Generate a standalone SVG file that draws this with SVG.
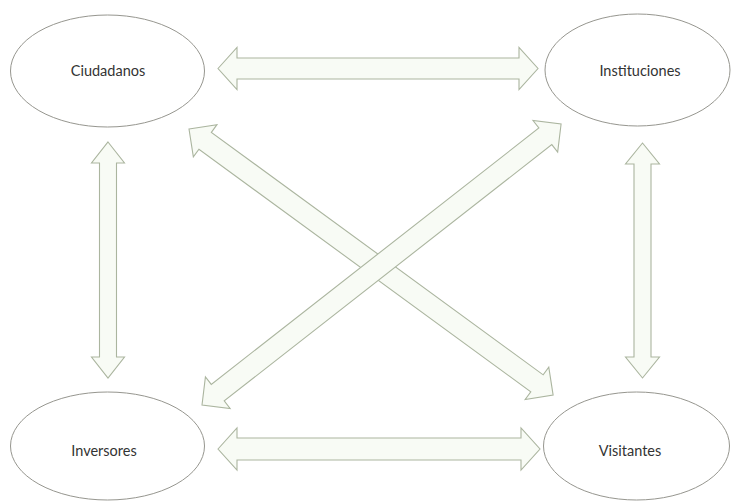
<svg xmlns="http://www.w3.org/2000/svg" width="732" height="502" viewBox="0 0 732 502">
  <style>
    .node ellipse { fill: #ffffff; stroke: #96968f; stroke-width: 1; }
    .node text { font-family: Lato, "Open Sans", "Liberation Sans", sans-serif; font-size: 14.5px; fill: #333333; text-anchor: middle; }
    .arrow { fill: #f8fbf5; stroke: #abb59f; stroke-width: 1.1; stroke-linejoin: miter; }
  </style>
  <rect width="732" height="502" fill="#ffffff"/>

  <!-- double-headed block arrows -->
  <g id="connectors">
    <!-- Ciudadanos <-> Instituciones -->
    <path class="arrow" transform="translate(218,68.5)" d="M0,0 L19,-21 L19,-10.5 L301,-10.5 L301,-21 L320,0 L301,21 L301,10.5 L19,10.5 L19,21 Z"/>
    <!-- Inversores <-> Visitantes -->
    <path class="arrow" transform="translate(218,449)" d="M0,0 L19,-21 L19,-11 L303,-11 L303,-21 L322,0 L303,21 L303,11 L19,11 L19,21 Z"/>
    <!-- Ciudadanos <-> Inversores -->
    <path class="arrow" transform="translate(108,142) rotate(90)" d="M0,0 L21,-16.5 L21,-8.5 L215,-8.5 L215,-16.5 L236,0 L215,16.5 L215,8.5 L21,8.5 L21,16.5 Z"/>
    <!-- Instituciones <-> Visitantes -->
    <path class="arrow" transform="translate(642.5,143) rotate(90)" d="M0,0 L21,-17 L21,-8.5 L214,-8.5 L214,-17 L235,0 L214,17 L214,8.5 L21,8.5 L21,17 Z"/>
    <!-- Ciudadanos <-> Visitantes -->
    <path class="arrow" transform="translate(189,129) rotate(36.16)" d="M0,0 L20,-20 L20,-10.5 L431,-10.5 L431,-20 L451,0 L431,20 L431,10.5 L20,10.5 L20,20 Z"/>
    <!-- Inversores <-> Instituciones -->
    <path class="arrow" transform="translate(202,405) rotate(-38.05)" d="M0,0 L20,-20 L20,-10.5 L436,-10.5 L436,-20 L456,0 L436,20 L436,10.5 L20,10.5 L20,20 Z"/>
  </g>

  <g id="ciudadanos" class="node">
    <ellipse cx="107.5" cy="71" rx="97" ry="56"/>
    <text x="108" y="76">Ciudadanos</text>
  </g>
  <g id="instituciones" class="node">
    <ellipse cx="637.5" cy="70" rx="92.5" ry="56"/>
    <text x="640" y="76">Instituciones</text>
  </g>
  <g id="inversores" class="node">
    <ellipse cx="107.5" cy="446" rx="97" ry="54"/>
    <text x="104" y="456">Inversores</text>
  </g>
  <g id="visitantes" class="node">
    <ellipse cx="636.5" cy="446" rx="93" ry="54"/>
    <text x="630" y="456">Visitantes</text>
  </g>
</svg>
